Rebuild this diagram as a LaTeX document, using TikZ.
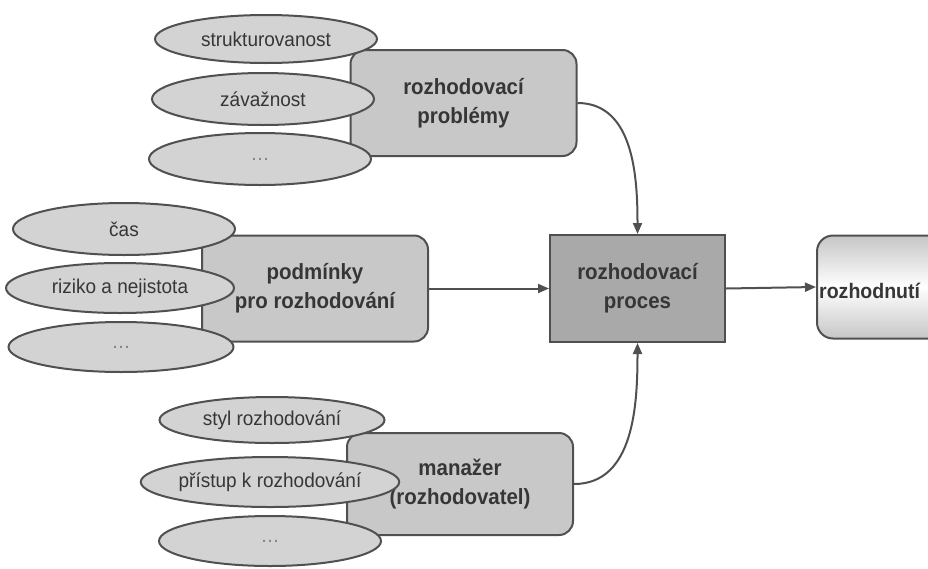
\documentclass[tikz,border=0pt]{standalone}
\usepackage{fontspec}
\setmainfont{Liberation Sans}
\newfontfamily\narrowsans[FakeStretch=0.93]{Liberation Sans}
\newfontfamily\ovalsans[FakeStretch=0.95]{Liberation Sans}
\usepackage{xcolor}
\definecolor{ink}{HTML}{363636}
\definecolor{edge}{HTML}{505050}
\definecolor{boxgray}{HTML}{C8C8C8}
\definecolor{ovalgray}{HTML}{D3D3D3}
\definecolor{coregray}{HTML}{A9A9A9}
\usetikzlibrary{arrows.meta,positioning,shapes.geometric}

\begin{document}
\begin{tikzpicture}[
		x=1pt, y=-1pt,
		factor/.style={ellipse, draw=edge, line width=2pt, fill=ovalgray, text=ink,
			minimum width=222pt, minimum height=50pt, inner sep=0pt,
			font=\ovalsans\fontsize{20}{24}\selectfont},
		topic/.style={rectangle, rounded corners=14pt, draw=edge, line width=2pt,
			fill=boxgray, text=ink, minimum width=226pt, minimum height=106pt,
			align=center, font=\narrowsans\fontsize{22}{29}\selectfont\bfseries},
		core/.style={rectangle, draw=edge, line width=2pt, fill=coregray, text=ink,
			minimum width=175pt, minimum height=107pt, align=center,
			font=\narrowsans\fontsize{22}{29}\selectfont\bfseries},
		outcome/.style={rectangle, rounded corners=16pt, draw=edge, line width=2pt,
			top color=gray!45, bottom color=gray!45, middle color=white,
			minimum width=170pt, minimum height=103pt},
		link/.style={draw=edge, line width=2pt, -{Triangle[length=11pt,width=9pt]}}
	]
		\useasboundingbox (0,0) rectangle (928,568);

		% Main boxes
		\node[topic] (problems) at (463.5,103) {rozhodovací\\problémy};
		\node[topic] (conditions) at (315,288.5) {podmínky\\pro rozhodování};
		\node[topic, minimum height=102pt] (manager) at (460,484) {manažer\\(rozhodovatel)};
		\node[core] (process) at (637.5,288.5) {rozhodovací\\proces};
		\node[outcome] (decision) at (902,287) {};
		\node[text=ink, font=\narrowsans\fontsize{21}{26}\selectfont\bfseries, anchor=west, inner sep=0pt]
			(decisionlabel) at ([xshift=3pt,yshift=-4pt]decision.west) {rozhodnutí};

		% Factors of the problem
		\node[factor, minimum height=48pt] (structure) at (266,39) {strukturovanost};
		\node[factor, minimum height=52pt] (severity) at (263,99) {závažnost};
		\node[factor, minimum height=52pt, text=gray] (problemsmore) at (260,159) {\dots};

		% Factors of the conditions
		\node[factor, minimum height=52pt] (time) at (124,229) {čas};
		\node[factor, minimum width=228pt] (risk) at (120,288) {riziko a nejistota};
		\node[factor, minimum width=225pt, text=gray] (conditionsmore) at (121,347) {\dots};

		% Factors of the manager
		\node[factor, minimum width=225pt, minimum height=46pt] (style) at (272,420) {styl rozhodování};
		\node[factor, minimum width=225pt] (approach) at (270,482) {přístup k rozhodování};
		\node[factor, text=gray] (managermore) at (270,541) {\dots};

		% Connectors
		\draw[link] (problems.east) to[out=0, in=90] (process.north);
		\draw[link] (conditions.east) -- (process.west);
		\draw[link] (manager.east) to[out=0, in=-90] (process.south);
		\draw[link] (process.east) -- (decision.west);
	\end{tikzpicture}
\end{document}
